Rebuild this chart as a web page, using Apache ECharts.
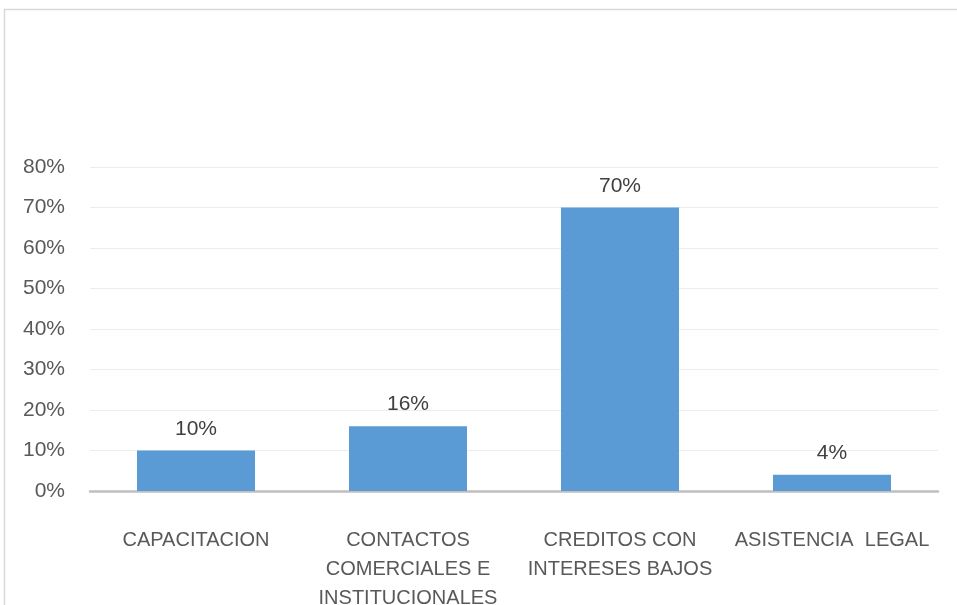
<!DOCTYPE html>
<html>
<head>
<meta charset="utf-8">
<script src="https://cdn.jsdelivr.net/npm/echarts@6/dist/echarts.min.js"></script>
<style>
  html, body { margin: 0; padding: 0; background: #fff; }
  #chart { width: 957px; height: 605px; }
</style>
</head>
<body>
<div id="chart"></div>
<script>
const categories = [
  "CAPACITACION",
  "CONTACTOS\nCOMERCIALES E\nINSTITUCIONALES",
  "CREDITOS CON\nINTERESES BAJOS",
  "ASISTENCIA  LEGAL"
];
const values = [10, 16, 70, 4];

const FONT = "'Liberation Sans', Arial, sans-serif";
const TEXT = "#595959";

const chart = echarts.init(document.getElementById("chart"));
chart.setOption({
  animation: false,
  textStyle: { fontFamily: FONT },
  graphic: [
    {
      type: "rect",
      shape: { x: 4.5, y: 9.5, width: 1000, height: 1000 },
      style: { fill: "none", stroke: "#d9d9d9", lineWidth: 1.5 },
      silent: true
    }
  ],
  grid: {
    left: 90, right: 19, top: 167, bottom: 114,
    containLabel: false,
    outerBoundsMode: "none"
  },
  xAxis: {
    type: "category",
    data: categories,
    axisLine: { lineStyle: { color: "#bfbfbf", width: 2.5 } },
    axisTick: { show: false },
    axisLabel: {
      interval: 0,
      margin: 35,
      color: TEXT,
      fontSize: 20,
      lineHeight: 29,
      fontFamily: FONT
    }
  },
  yAxis: {
    type: "value",
    min: 0,
    max: 80,
    interval: 10,
    axisLine: { show: false },
    axisTick: { show: false },
    splitLine: { lineStyle: { color: "#ececec", width: 1 } },
    axisLabel: {
      margin: 25,
      color: TEXT,
      fontSize: 21,
      padding: [6, 0, 0, 0],
      fontFamily: FONT,
      formatter: "{value}%"
    }
  },
  series: [
    {
      type: "bar",
      data: values,
      barWidth: 118,
      itemStyle: { color: "#5b9bd5" },
      label: {
        show: true,
        position: "top",
        distance: 11,
        color: "#404040",
        fontSize: 21,
        fontFamily: FONT,
        formatter: "{c}%"
      }
    }
  ]
});
</script>
</body>
</html>
